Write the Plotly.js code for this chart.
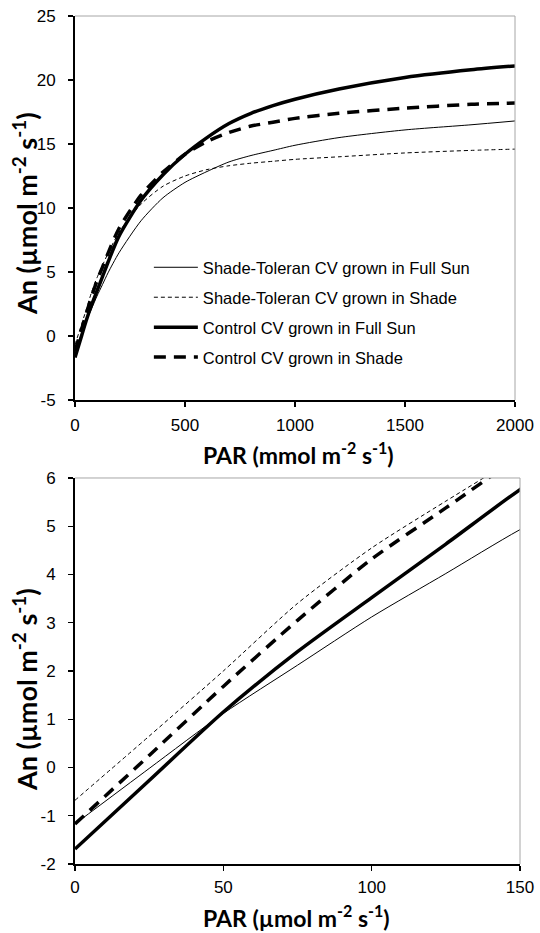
<!DOCTYPE html>
<html>
<head>
<meta charset="utf-8">
<script src="https://cdn.plot.ly/plotly-3.0.1.min.js"></script>
<style>html,body{margin:0;padding:0;background:#fff;}#chart{width:540px;height:933px;}</style>
</head>
<body>
<div id="chart"></div>
<script>
// PAR values (x)
const par = [0, 25, 50, 75, 100, 125, 150, 200, 300, 400, 500, 600, 700, 800, 900, 1000, 1200, 1500, 1800, 2000];
// Net assimilation An for each treatment
const stFullSun = [-1.17, -0.02, 1.12, 2.12, 3.12, 4.02, 4.93, 6.5, 9.0, 10.8, 12.0, 12.85, 13.6, 14.1, 14.5, 14.9, 15.5, 16.1, 16.5, 16.8];
const stShade   = [-0.68, 0.65, 2.0, 3.4, 4.55, 5.52, 6.45, 8.1, 10.3, 11.7, 12.5, 13.0, 13.3, 13.5, 13.65, 13.8, 14.0, 14.3, 14.5, 14.6];
const ctFullSun = [-1.69, -0.27, 1.15, 2.4, 3.52, 4.63, 5.76, 7.8, 10.6, 12.6, 14.2, 15.5, 16.6, 17.4, 18.0, 18.5, 19.3, 20.2, 20.8, 21.1];
const ctShade   = [-1.17, 0.25, 1.68, 3.05, 4.32, 5.38, 6.45, 8.4, 11.0, 12.8, 14.2, 15.2, 15.9, 16.4, 16.7, 17.0, 17.4, 17.8, 18.1, 18.2];

const seriesNames = [
  "Shade-Toleran CV grown in Full Sun",
  "Shade-Toleran CV grown in Shade",
  "Control CV grown in Full Sun",
  "Control CV grown in Shade"
];

// Tick values / labels
const topXTicks = [0, 500, 1000, 1500, 2000];
const topYTicks = [-5, 0, 5, 10, 15, 20, 25];
const topYLabels = ["-5", "0", "5", "10", "15", "20", "25"];
const botXTicks = [0, 50, 100, 150];
const botYTicks = [-2, -1, 0, 1, 2, 3, 4, 5, 6];
const botYLabels = ["-2", "-1", "0", "1", "2", "3", "4", "5", "6"];

const seriesData = [stFullSun, stShade, ctFullSun, ctShade];
const seriesLines = [
  {color: "#000", width: 1, dash: "solid"},
  {color: "#000", width: 1, dash: "4px,3px"},
  {color: "#000", width: 3.5, dash: "solid"},
  {color: "#000", width: 3.5, dash: "12px,8px"}
];

const traces = [];
seriesData.forEach((ys, i) => {
  traces.push({
    x: par, y: ys, type: "scatter", mode: "lines", name: seriesNames[i],
    line: Object.assign({shape: "spline", smoothing: 0.7}, seriesLines[i]),
    xaxis: "x", yaxis: "y", legendgroup: "g" + i, showlegend: true
  });
});
seriesData.forEach((ys, i) => {
  traces.push({
    x: par, y: ys, type: "scatter", mode: "lines", name: seriesNames[i],
    line: Object.assign({shape: "spline", smoothing: 0.7}, seriesLines[i]),
    xaxis: "x2", yaxis: "y2", legendgroup: "g" + i, showlegend: false
  });
});

const tickFont = {family: "Liberation Sans, Arial, sans-serif", size: 17, color: "#000"};
const titleFontX = {family: "Lato, sans-serif", size: 23, color: "#000", weight: "bold"};
const titleFontY = {family: "Lato, sans-serif", size: 27, color: "#000", weight: "bold"};

function xAxis(range, ticks, domain, anchor, standoff) {
  return {
    domain: domain, anchor: anchor, range: range,
    tickmode: "array", tickvals: ticks, ticktext: ticks.map(String),
    showgrid: false, zeroline: false, showline: true, linecolor: "#000", linewidth: 2,
    ticks: "outside", ticklen: 5, tickwidth: 1.2, tickcolor: "#000",
    tickfont: tickFont, automargin: false, ticklabelstandoff: standoff
  };
}
function yAxis(range, ticks, labels, domain, anchor) {
  return {
    domain: domain, anchor: anchor, range: range,
    tickmode: "array", tickvals: ticks, ticktext: labels,
    showgrid: false, zeroline: false, showline: true, linecolor: "#000", linewidth: 2,
    ticks: "outside", ticklen: 5, tickwidth: 1.2, tickcolor: "#000",
    tickfont: tickFont, automargin: false, ticklabelstandoff: 9
  };
}

const yTitle = "An (µmol m<sup>-2</sup> s<sup>-1</sup>)";
const xTitleTop = "PAR (mmol m<sup>-2</sup> s<sup>-1</sup>)";
const xTitleBot = "PAR (µmol m<sup>-2</sup> s<sup>-1</sup>)";

const layout = {
  width: 540, height: 933,
  margin: {l: 75, r: 20, t: 16, b: 69},
  paper_bgcolor: "#fff", plot_bgcolor: "#fff",
  font: tickFont,
  showlegend: true,
  legend: {
    x: 0.166, y: 0.724, xanchor: "left", yanchor: "top",
    bgcolor: "rgba(0,0,0,0)", borderwidth: 0,
    font: {family: "Liberation Sans, Arial, sans-serif", size: 16.5, color: "#000"},
    tracegroupgap: 5.5, itemwidth: 44
  },
  xaxis: xAxis([0, 2000], topXTicks, [0, 440/445], "y", 4),
  yaxis: yAxis([-5, 25], topYTicks, topYLabels, [0.5472, 1], "x"),
  xaxis2: xAxis([0, 150], botXTicks, [0, 1], "y2", 2),
  yaxis2: yAxis([-2, 6], botYTicks, botYLabels, [0, 0.4552], "x2"),
  annotations: [
    {text: yTitle, xref: "paper", yref: "paper", x: -0.1124, y: 0.7677, xanchor: "center", yanchor: "middle",
     textangle: -90, showarrow: false, font: titleFontY},
    {text: yTitle, xref: "paper", yref: "paper", x: -0.1124, y: 0.2064, xanchor: "center", yanchor: "middle",
     textangle: -90, showarrow: false, font: titleFontY},
    {text: xTitleTop, xref: "paper", yref: "paper", x: 0.503, y: 0.4845, xanchor: "center", yanchor: "middle",
     showarrow: false, font: titleFontX},
    {text: xTitleBot, xref: "paper", yref: "paper", x: 0.497, y: -0.0615, xanchor: "center", yanchor: "middle",
     showarrow: false, font: titleFontX}
  ],
  shapes: [
    {type: "line", xref: "x domain", yref: "y domain", x0: 0, x1: 1, y0: 1, y1: 1, line: {color: "#a6a6a6", width: 1}},
    {type: "line", xref: "x domain", yref: "y domain", x0: 1, x1: 1, y0: 0, y1: 1, line: {color: "#a6a6a6", width: 1}},
    {type: "line", xref: "x2 domain", yref: "y2 domain", x0: 0, x1: 1, y0: 1, y1: 1, line: {color: "#a6a6a6", width: 1}},
    {type: "line", xref: "x2 domain", yref: "y2 domain", x0: 1, x1: 1, y0: 0, y1: 1, line: {color: "#a6a6a6", width: 1}}
  ]
};

Plotly.newPlot("chart", traces, layout, {displayModeBar: false, staticPlot: true});
</script>
</body>
</html>
